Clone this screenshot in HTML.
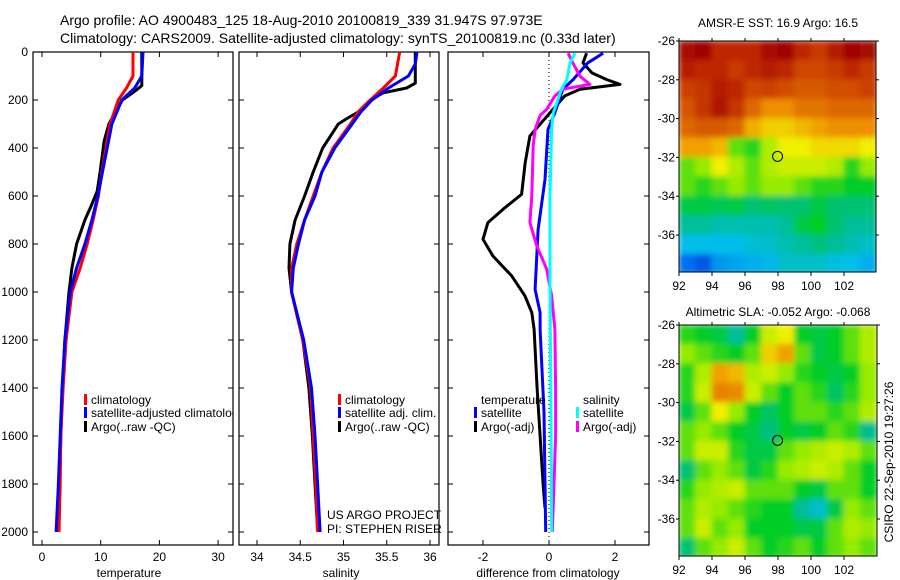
<!DOCTYPE html>
<html><head><meta charset="utf-8"><style>
body{margin:0;background:#fff;}
svg{display:block;font-family:"Liberation Sans",Arial,sans-serif;}
</style></head><body>
<svg id="fig" width="900" height="580" viewBox="0 0 900 580">
<defs>
<clipPath id="c1"><rect x="33" y="52" width="200" height="493"/></clipPath>
<clipPath id="c2"><rect x="239" y="52" width="200" height="493"/></clipPath>
<clipPath id="c3"><rect x="448" y="52" width="201" height="493"/></clipPath>
<clipPath id="cm1"><rect x="679" y="41" width="197" height="231"/></clipPath>
<clipPath id="cm2"><rect x="679" y="325" width="198" height="231"/></clipPath>
<filter id="blur" x="0" y="0" width="1" height="1"><feGaussianBlur stdDeviation="3" edgeMode="duplicate"/></filter>
</defs>
<text x="60" y="25" font-size="14">Argo profile: AO 4900483_125 18-Aug-2010 20100819_339 31.947S 97.973E</text>
<text x="60" y="43" font-size="14">Climatology: CARS2009. Satellite-adjusted climatology: synTS_20100819.nc (0.33d later)</text>
<g id="root"></g>
</svg>
<script>
// ---------- data ----------
const depthTicks=[0,200,400,600,800,1000,1200,1400,1600,1800,2000];
const tempTicks=[0,10,20,30];
const salTicks=[34,34.5,35,35.5,36];
const salTickLabels=["34","34.5","35","35.5","36"];
const diffTicks=[-2,0,2];
const tempClimDepth=[0,100,150,200,300,400,500,600,700,800,900,1000,1200,1400,1600,1800,2000];
const tempClim=[15.5,15.5,14.4,13,11.6,10.9,10.2,9.6,8.7,7.7,6.5,5.1,4.1,3.6,3.2,3.1,2.9];
const tempSatDepth=[0,100,150,200,300,400,500,600,700,800,900,1000,1200,1400,1600,1800,2000];
const tempSat=[17.2,17,15.8,13.6,11.9,11.1,10.3,9.5,8.5,7.3,5.9,4.8,3.9,3.4,3.1,2.8,2.4];
const tempArgoDepth=[0,130,140,160,200,300,370,500,580,640,700,800,900,1000,1200,1400,1600,1800,1990];
const tempArgo=[17,17,17,16,13.7,11.4,10.6,9.9,9.4,8.4,7.3,5.9,5.1,4.6,3.9,3.5,3.2,3.0,2.6];
const salClimDepth=[0,100,150,200,250,300,400,500,600,700,800,900,1000,1200,1400,1600,1800,2000];
const salClim=[35.65,35.6,35.46,35.31,35.17,35.08,34.88,34.75,34.65,34.55,34.46,34.4,34.4,34.53,34.62,34.65,34.68,34.7];
const salSatDepth=[0,50,100,150,200,250,300,400,500,600,700,800,900,1000,1200,1400,1600,1800,2000];
const salSat=[35.85,35.83,35.75,35.52,35.33,35.2,35.1,34.9,34.75,34.67,34.55,34.48,34.42,34.4,34.54,34.63,34.67,34.7,34.73];
const salArgoDepth=[0,130,150,170,200,250,277,300,400,500,600,700,800,900,1000,1200,1400,1600,1800,1990];
const salArgo=[35.83,35.83,35.73,35.46,35.31,35.17,35.04,34.94,34.76,34.65,34.55,34.44,34.38,34.37,34.4,34.53,34.6,34.64,34.67,34.7];
const dTArgoDepth=[5,45,87,115,135,155,183,253,350,461,593,655,711,780,850,933,1016,1086,1155,1400,1600,1800,1900];
const dTArgo=[1.14,1.03,1.3,1.75,2.15,0.94,0.48,0.03,-0.58,-0.72,-0.83,-1.39,-1.85,-2.0,-1.7,-1.13,-0.73,-0.52,-0.45,-0.36,-0.27,-0.18,-0.12];
const dTSatDepth=[5,45,115,155,253,323,531,740,990,1086,1155,1500,2000];
const dTSat=[1.64,1.18,0.73,0.42,0.18,-0.03,-0.12,-0.33,-0.42,-0.27,-0.27,-0.15,-0.1];
const dSSatDepth=[5,45,115,155,253,323,600,1000,1500,2000];
const dSSat=[0.79,0.64,0.54,0.38,0.13,0.08,0.03,0.03,0.06,0.08];
const dSArgoDepth=[5,45,101,135,155,183,239,264,323,392,600,711,808,905,1016,1155,1400,1600,1800,2000];
const dSArgo=[0.58,0.72,0.94,1.24,0.42,0.18,-0.07,-0.27,-0.42,-0.48,-0.52,-0.58,-0.37,-0.07,0.08,0.18,0.2,0.2,0.15,0.1];
const lonTicks=[92,94,96,98,100,102];
const latTicks=[-26,-28,-30,-32,-34,-36];
const sstGrid=[
[0.95,0.96,0.9,0.9,0.9,0.95,0.96,0.9,0.87,0.92,0.96,0.95],
[0.92,0.9,0.9,0.87,0.9,0.92,0.9,0.85,0.85,0.87,0.9,0.87],
[0.86,0.88,0.92,0.9,0.85,0.86,0.84,0.82,0.82,0.84,0.84,0.86],
[0.83,0.88,0.93,0.88,0.8,0.74,0.74,0.78,0.78,0.8,0.8,0.8],
[0.8,0.82,0.82,0.8,0.71,0.68,0.68,0.7,0.72,0.74,0.74,0.74],
[0.72,0.72,0.7,0.55,0.52,0.6,0.65,0.65,0.67,0.67,0.67,0.65],
[0.55,0.58,0.65,0.6,0.55,0.6,0.62,0.62,0.62,0.6,0.52,0.58],
[0.55,0.52,0.55,0.58,0.55,0.58,0.58,0.55,0.52,0.52,0.5,0.5],
[0.48,0.48,0.47,0.48,0.45,0.46,0.45,0.45,0.48,0.45,0.45,0.45],
[0.42,0.42,0.4,0.4,0.4,0.4,0.42,0.48,0.5,0.45,0.42,0.42],
[0.35,0.35,0.35,0.35,0.37,0.38,0.4,0.42,0.44,0.42,0.4,0.38],
[0.25,0.22,0.3,0.32,0.33,0.34,0.38,0.38,0.38,0.36,0.35,0.33]];
const slaGrid=[
[0.52,0.5,0.48,0.42,0.5,0.62,0.65,0.5,0.48,0.5,0.55,0.6],
[0.58,0.55,0.52,0.5,0.55,0.68,0.72,0.55,0.48,0.5,0.55,0.6],
[0.52,0.6,0.72,0.7,0.6,0.62,0.58,0.52,0.5,0.48,0.5,0.58],
[0.52,0.62,0.76,0.75,0.62,0.55,0.5,0.55,0.52,0.46,0.52,0.58],
[0.48,0.55,0.65,0.58,0.5,0.46,0.5,0.55,0.55,0.52,0.55,0.6],
[0.55,0.58,0.55,0.5,0.48,0.44,0.5,0.48,0.5,0.55,0.52,0.43],
[0.55,0.62,0.62,0.52,0.48,0.48,0.55,0.58,0.6,0.62,0.6,0.55],
[0.45,0.55,0.58,0.55,0.48,0.52,0.58,0.6,0.62,0.6,0.55,0.5],
[0.52,0.58,0.6,0.62,0.55,0.55,0.55,0.5,0.48,0.55,0.55,0.5],
[0.55,0.6,0.58,0.55,0.52,0.5,0.5,0.42,0.38,0.48,0.58,0.55],
[0.55,0.62,0.55,0.58,0.5,0.5,0.5,0.48,0.48,0.55,0.6,0.58],
[0.45,0.55,0.58,0.62,0.55,0.5,0.52,0.55,0.5,0.55,0.58,0.55]];
const floatLon=[97.973];
const floatLat=[-31.947];

// ---------- drawing ----------
const NS="http://www.w3.org/2000/svg";
const root=document.getElementById('root');
function mk(tag,attrs,parent){const e=document.createElementNS(NS,tag);for(const k in attrs)e.setAttribute(k,attrs[k]);(parent||root).appendChild(e);return e;}
function yDepth(d){return 52+d*0.24;}
const xTemp=v=>42+v*5.87;
const xSal=v=>257+(v-34)*86.5;
const xDiff=v=>549+v*33;
const panels=[{x:33,w:200,clip:'c1'},{x:239,w:200,clip:'c2'},{x:448,w:201,clip:'c3'}];
const TOP=52,BOT=545;

function axesBox(p,name){
  const r=mk('rect',{x:p.x,y:TOP,width:p.w,height:BOT-TOP,fill:'none',stroke:'#000','stroke-width':1.2});
  
  
  depthTicks.forEach(d=>{const y=yDepth(d);
    mk('line',{x1:p.x,x2:p.x+5,y1:y,y2:y,stroke:'#000'});
    mk('line',{x1:p.x+p.w-5,x2:p.x+p.w,y1:y,y2:y,stroke:'#000'});});
}
function xTicks(p,ticks,labels,fx){
  ticks.forEach((t,i)=>{const x=fx(t);
    mk('line',{x1:x,x2:x,y1:BOT,y2:BOT-5,stroke:'#000'});
    mk('line',{x1:x,x2:x,y1:TOP,y2:TOP+5,stroke:'#000'});
    const tx=mk('text',{x:x,y:561,'font-size':12,'text-anchor':'middle'});
    tx.textContent=labels[i];
    
    });
}
function line(ds,vs,fx,color,clip,name){
  const pts=ds.map((d,i)=>fx(vs[i]).toFixed(1)+','+yDepth(d).toFixed(1)).join(' ');
  const pl=mk('polyline',{points:pts,fill:'none',stroke:color,'stroke-width':3,'stroke-linejoin':'round','clip-path':'url(#'+clip+')'});
  
  
}
function txt(x,y,s,name,size,anchor){const t=mk('text',{x:x,y:y,'font-size':size||12,'text-anchor':anchor||'start'});t.textContent=s;
  
  return t;}
function legBar(x,y,color){const r=mk('rect',{x:x,y:y-10,width:3,height:11,fill:color});
  
  }

// panel 1 temperature
axesBox(panels[0],'temperature-axes');
depthTicks.forEach(d=>{const t=txt(28,yDepth(d)+4,String(d),'y-tick-label',12,'end');});
xTicks(panels[0],tempTicks,tempTicks.map(String),xTemp);
line(tempArgoDepth,tempArgo,xTemp,'#000','c1','temp-argo-line');
line(tempClimDepth,tempClim,xTemp,'#f00','c1','temp-climatology-line');
line(tempSatDepth,tempSat,xTemp,'#00f','c1','temp-satellite-line');
txt(129,577,'temperature','x-axis-title-temperature',12,'middle');
const lg1=mk('g',{'clip-path':'url(#c1)'});
legBar(84,404,'#f00');legBar(84,417,'#00f');legBar(84,431,'#000');
[['climatology',404],['satellite-adjusted climatology',417],['Argo(..raw -QC)',431]].forEach(a=>{const t=txt(91,a[1],a[0],'legend-entry');lg1.appendChild(t);});

// panel 2 salinity
axesBox(panels[1],'salinity-axes');
xTicks(panels[1],salTicks,salTickLabels,xSal);
line(salArgoDepth,salArgo,xSal,'#000','c2','sal-argo-line');
line(salClimDepth,salClim,xSal,'#f00','c2','sal-climatology-line');
line(salSatDepth,salSat,xSal,'#00f','c2','sal-satellite-line');
txt(341,577,'salinity','x-axis-title-salinity',12,'middle');
legBar(338,404,'#f00');legBar(338,417,'#00f');legBar(338,431,'#000');
txt(345,404,'climatology','legend-entry');txt(345,417,'satellite adj. clim.','legend-entry');txt(345,431,'Argo(..raw -QC)','legend-entry');
txt(327,519,'US ARGO PROJECT','project-label');txt(327,533,'PI: STEPHEN RISER','pi-label');

// panel 3 difference
axesBox(panels[2],'difference-axes');
xTicks(panels[2],diffTicks,diffTicks.map(String),xDiff);
const z=mk('line',{x1:xDiff(0),x2:xDiff(0),y1:TOP,y2:BOT,stroke:'#000','stroke-dasharray':'1,3'});


line(dTArgoDepth,dTArgo,xDiff,'#000','c3','diff-temp-argo-line');
line(dTSatDepth,dTSat,xDiff,'#00f','c3','diff-temp-satellite-line');
line(dSArgoDepth,dSArgo,xDiff,'#f0f','c3','diff-sal-argo-line');
line(dSSatDepth,dSSat,xDiff,'#0ff','c3','diff-sal-satellite-line');
txt(548,577,'difference from climatology','x-axis-title-difference',12,'middle');
txt(481,404,'temperature','legend-header');txt(583,404,'salinity','legend-header');
legBar(474,417,'#00f');legBar(474,431,'#000');legBar(576,417,'#0ff');legBar(576,431,'#f0f');
txt(481,417,'satellite','legend-entry');txt(481,431,'Argo(-adj)','legend-entry');
txt(583,417,'satellite','legend-entry');txt(583,431,'Argo(-adj)','legend-entry');

// maps
function cmap(v){
  const st=[[0.15,0,40,200],[0.25,0,110,240],[0.35,0,190,235],[0.43,0,190,140],[0.5,0,205,40],[0.58,150,235,0],[0.65,240,240,0],[0.73,240,150,0],[0.82,215,90,0],[0.9,190,40,0],[0.96,160,0,0]];
  if(v<=st[0][0])return 'rgb('+st[0].slice(1)+')';
  for(let i=1;i<st.length;i++){if(v<=st[i][0]){const a=st[i-1],b=st[i],t=(v-a[0])/(b[0]-a[0]);
    return 'rgb('+[1,2,3].map(k=>Math.round(a[k]+(b[k]-a[k])*t)).join(',')+')';}}
  return 'rgb('+st[st.length-1].slice(1)+')';
}
function drawMap(m,grid,name){
  const fx=lon=>m.x+(lon-92)*m.sx, fy=lat=>m.y+(-26-lat)*m.sy;
  const g=mk('g',{'clip-path':'url(#'+m.clip+')'});
  
  
  const gb=mk('g',{filter:'url(#blur)'},g);
  mk('rect',{x:m.x,y:m.y,width:m.w,height:m.h,fill:cmap(0.5)},gb);
  grid.forEach((row,r)=>row.forEach((v,c)=>{
    const cell=mk('rect',{x:fx(92+c)-0.5,y:fy(-26-r)-0.5,width:m.sx+1,height:m.sy+1,fill:cmap(v)},gb);
    
    
  }));
  const b=mk('rect',{x:m.x,y:m.y,width:m.w,height:m.h,fill:'none',stroke:'#000'});
  
  
  lonTicks.forEach(l=>{const x=fx(l);mk('line',{x1:x,x2:x,y1:m.y+m.h,y2:m.y+m.h+4,stroke:'#000'});mk('line',{x1:x,x2:x,y1:m.y,y2:m.y-3,stroke:'#000'});
    txt(x,m.y+m.h+18,String(l),'map-x-tick-label',12,'middle');});
  latTicks.forEach(l=>{const y=fy(l);mk('line',{x1:m.x,x2:m.x-3,y1:y,y2:y,stroke:'#000'});mk('line',{x1:m.x+m.w,x2:m.x+m.w+3,y1:y,y2:y,stroke:'#000'});
    txt(m.x-4,y+4,String(l),'map-y-tick-label',12,'end');});
  floatLon.forEach((lo,i)=>{const c=mk('circle',{cx:fx(lo),cy:fy(floatLat[i]),r:5,fill:'none',stroke:'#000'});
    
    });
}
const m1={x:679,y:41,w:197,h:231,sx:16.5,sy:19.4,clip:'cm1'};
const m2={x:679,y:325,w:198,h:231,sx:16.5,sy:19.4,clip:'cm2'};
drawMap(m1,sstGrid,'sst-map');
drawMap(m2,slaGrid,'sla-map');
txt(778,27,'AMSR-E SST: 16.9 Argo: 16.5','sst-map-title',12,'middle');
txt(778,316,'Altimetric SLA: -0.052 Argo: -0.068','sla-map-title',12,'middle');
const cr=txt(0,0,'CSIRO 22-Sep-2010 19:27:26','csiro-timestamp',12,'middle');
cr.setAttribute('transform','translate(893,462) rotate(-90)');
</script>
</body></html>
